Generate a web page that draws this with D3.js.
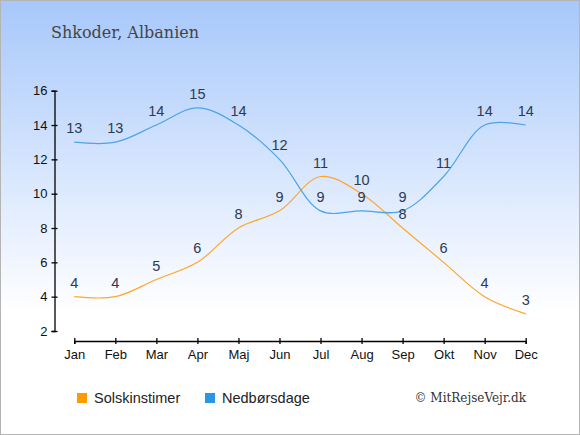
<!DOCTYPE html>
<html>
<head>
<meta charset="utf-8">
<script src="https://cdn.jsdelivr.net/npm/d3@7"></script>
<style>
  body { margin: 0; }
  svg { display: block; }
</style>
</head>
<body>
<svg></svg>
<script>
const width = 580;
const height = 435;

const months = ["Jan", "Feb", "Mar", "Apr", "Maj", "Jun", "Jul", "Aug", "Sep", "Okt", "Nov", "Dec"];
const sunHours = [4, 4, 5, 6, 8, 9, 11, 10, 8, 6, 4, 3];
const rainDays = [13, 13, 14, 15, 14, 12, 9, 9, 9, 11, 14, 14];
const yTicks = [2, 4, 6, 8, 10, 12, 14, 16];

const svg = d3.select("svg")
    .attr("width", width)
    .attr("height", height);

// background gradient
const grad = svg.append("defs").append("linearGradient")
    .attr("id", "bg")
    .attr("x1", 0).attr("y1", 0).attr("x2", 0).attr("y2", 1);
grad.append("stop").attr("offset", "0%").attr("stop-color", "#a7c8fb");
grad.append("stop").attr("offset", "72%").attr("stop-color", "#ffffff");
grad.append("stop").attr("offset", "100%").attr("stop-color", "#ffffff");

svg.append("rect")
    .attr("x", 0.5).attr("y", 0.5)
    .attr("width", width - 1).attr("height", height - 1)
    .attr("fill", "url(#bg)")
    .attr("stroke", "#b4b4b4");

svg.append("text")
    .attr("x", 51)
    .attr("y", 38)
    .attr("font-family", "DejaVu Serif")
    .attr("font-size", 16)
    .attr("fill", "#444")
    .text("Shkoder, Albanien");

const x = d3.scalePoint()
    .domain(months)
    .range([74.3, 525.7]);

const y = d3.scaleLinear()
    .domain([2, 16])
    .range([331, 90.7]);

// y axis
const yAxis = svg.append("g")
    .attr("transform", "translate(54.5,0)")
    .call(d3.axisLeft(y).tickValues(yTicks).tickSize(3).tickPadding(4));
yAxis.selectAll(".tick line").attr("x2", 3).attr("x1", -3);

// x axis
const xAxis = svg.append("g")
    .attr("transform", "translate(0,341)")
    .call(d3.axisBottom(x).tickSize(3).tickPadding(6));
xAxis.selectAll(".tick line").attr("y1", -3).attr("y2", 3);

svg.selectAll(".domain").attr("stroke", "#000").attr("stroke-width", 1.3);
svg.selectAll(".tick line").attr("stroke", "#000").attr("stroke-width", 1.3);
svg.selectAll(".tick text")
    .attr("font-family", "Liberation Sans, Arial, sans-serif")
    .attr("font-size", 13)
    .attr("fill", "#111");

const line = d3.line()
    .x((d, i) => x(months[i]))
    .y(d => y(d))
    .curve(d3.curveCatmullRom.alpha(0.5));

const series = [
    { name: "Solskinstimer", values: sunHours, color: "#ffa62b" },
    { name: "Nedbørsdage", values: rainDays, color: "#4ea3ea" }
];

series.forEach(s => {
    svg.append("path")
        .attr("d", line(s.values))
        .attr("fill", "none")
        .attr("stroke", s.color)
        .attr("stroke-width", 1.2);
});

series.forEach(s => {
    svg.append("g").selectAll("text")
        .data(s.values)
        .enter().append("text")
        .attr("x", (d, i) => x(months[i]))
        .attr("y", d => y(d) - 9)
        .attr("text-anchor", "middle")
        .attr("font-family", "Liberation Sans, Arial, sans-serif")
        .attr("font-size", 14.5)
        .attr("fill", "#2b3a55")
        .text(d => d);
});

// legend
const legend = [
    { name: "Solskinstimer", color: "#ff9a00", x: 77 },
    { name: "Nedbørsdage", color: "#2d95e6", x: 205 }
];
legend.forEach(l => {
    svg.append("rect")
        .attr("x", l.x).attr("y", 393)
        .attr("width", 10).attr("height", 10)
        .attr("fill", l.color);
    svg.append("text")
        .attr("x", l.x + 17)
        .attr("y", 403)
        .attr("font-family", "Liberation Sans, Arial, sans-serif")
        .attr("font-size", 14.5)
        .attr("fill", "#222")
        .text(l.name);
});

svg.append("text")
    .attr("x", 526)
    .attr("y", 402)
    .attr("text-anchor", "end")
    .attr("font-family", "DejaVu Serif")
    .attr("font-size", 12)
    .attr("fill", "#333")
    .text("© MitRejseVejr.dk");
</script>
</body>
</html>
